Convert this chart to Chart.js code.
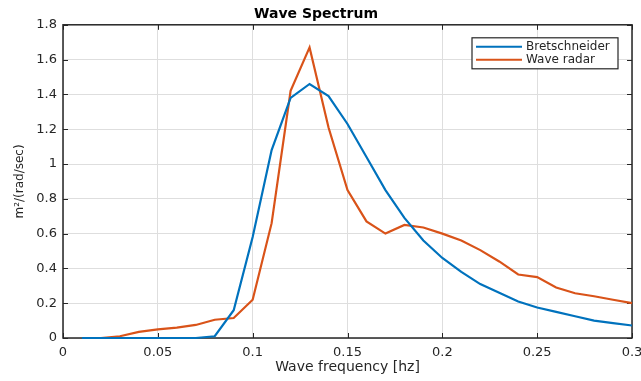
<!DOCTYPE html>
<html>
<head>
<meta charset="utf-8">
<script src="https://cdn.jsdelivr.net/npm/chart.js@4"></script>
<style>
  body { margin: 0; background: #fff; }
</style>
</head>
<body>
<canvas id="spectrum" width="641" height="381"></canvas>
<script>
const freq = [0.01, 0.02, 0.03, 0.04, 0.05, 0.06, 0.07, 0.08, 0.09, 0.10,
  0.11, 0.12, 0.13, 0.14, 0.15, 0.16, 0.17, 0.18, 0.19, 0.20,
  0.21, 0.22, 0.23, 0.24, 0.25, 0.26, 0.27, 0.28, 0.29, 0.30];
const bretschneider = [0, 0, 0, 0, 0, 0, 0, 0.01, 0.16, 0.58,
  1.08, 1.38, 1.46, 1.39, 1.23, 1.04, 0.85, 0.69, 0.56, 0.46,
  0.38, 0.31, 0.26, 0.21, 0.175, 0.15, 0.125, 0.10, 0.086, 0.072];
const waveRadar = [0, 0, 0.01, 0.035, 0.05, 0.06, 0.075, 0.105, 0.115, 0.22,
  0.66, 1.42, 1.67, 1.21, 0.85, 0.67, 0.60, 0.65, 0.635, 0.60,
  0.56, 0.505, 0.44, 0.365, 0.35, 0.29, 0.257, 0.24, 0.22, 0.20];
const seriesNames = ['Bretschneider', 'Wave radar'];
const seriesColors = ['#0072BD', '#D95319'];

const FONT = 'DejaVu Sans';
const INK = '#262626';

const toPoints = (vals) => freq.map((f, i) => ({x: f, y: vals[i]}));
const fmt = (v) => String(+(+v).toFixed(2));

// MATLAB style box with inward ticks (under the lines), legend on top
const boxPlugin = {
  id: 'box',
  beforeDatasetsDraw(chart) {
    const {ctx, chartArea: a, scales} = chart;
    ctx.save();
    ctx.strokeStyle = INK;
    ctx.lineWidth = 1;
    ctx.beginPath();
    scales.x.ticks.forEach(t => {
      const px = Math.round(scales.x.getPixelForValue(t.value)) + 0.5;
      ctx.moveTo(px, a.bottom); ctx.lineTo(px, a.bottom - 5);
      ctx.moveTo(px, a.top); ctx.lineTo(px, a.top + 5);
    });
    scales.y.ticks.forEach(t => {
      const py = Math.round(scales.y.getPixelForValue(t.value)) + 0.5;
      ctx.moveTo(a.left, py); ctx.lineTo(a.left + 5, py);
      ctx.moveTo(a.right, py); ctx.lineTo(a.right - 5, py);
    });
    ctx.stroke();
    ctx.lineWidth = 1.5;
    ctx.strokeRect(a.left, a.top, a.right - a.left, a.bottom - a.top);
    ctx.restore();
  },
  afterDraw(chart) {
    const {ctx, chartArea: a} = chart;
    const w = 146, h = 31;
    const lx = a.right - 14 - w, ly = a.top + 13;
    ctx.save();
    ctx.fillStyle = '#fff';
    ctx.fillRect(lx, ly, w, h);
    ctx.strokeStyle = INK;
    ctx.lineWidth = 1.2;
    ctx.strokeRect(lx, ly, w, h);
    ctx.font = '12px "' + FONT + '"';
    ctx.textBaseline = 'middle';
    chart.data.datasets.forEach((ds, i) => {
      const y = ly + 9 + i * 13;
      ctx.strokeStyle = ds.borderColor;
      ctx.lineWidth = 2;
      ctx.beginPath();
      ctx.moveTo(lx + 4, y); ctx.lineTo(lx + 50, y);
      ctx.stroke();
      ctx.fillStyle = INK;
      ctx.fillText(ds.label, lx + 54, y);
    });
    ctx.restore();
  }
};

new Chart(document.getElementById('spectrum'), {
  type: 'line',
  data: {
    datasets: [
      {label: seriesNames[0], data: toPoints(bretschneider), borderColor: seriesColors[0],
        backgroundColor: seriesColors[0], borderWidth: 2.2, pointRadius: 0, tension: 0, clip: 3},
      {label: seriesNames[1], data: toPoints(waveRadar), borderColor: seriesColors[1],
        backgroundColor: seriesColors[1], borderWidth: 2.2, pointRadius: 0, tension: 0, clip: 3}
    ]
  },
  options: {
    responsive: false,
    animation: false,
    layout: {padding: {left: 0, right: 9, top: 0, bottom: 0}},
    plugins: {
      legend: {display: false},
      tooltip: {enabled: false},
      title: {
        display: true,
        text: 'Wave Spectrum',
        color: '#000',
        font: {family: FONT, size: 14, weight: 'bold'},
        padding: {top: 6, bottom: 2}
      }
    },
    scales: {
      x: {
        type: 'linear',
        min: 0, max: 0.3,
        afterFit: (s) => { s.height = 43; s.paddingRight = 0; s.paddingLeft = 0; },
        grid: {color: '#dedede', drawTicks: false},
        border: {display: false},
        ticks: {stepSize: 0.05, padding: 7, color: INK, maxRotation: 0,
          font: {family: FONT, size: 13}, callback: fmt},
        title: {display: true, text: 'Wave frequency [hz]', color: INK,
          font: {family: FONT, size: 14}, padding: {top: 0, bottom: 5}}
      },
      y: {
        min: 0, max: 1.8,
        afterFit: (s) => { s.width = 63; },
        grid: {color: '#dedede', drawTicks: false},
        border: {display: false},
        ticks: {stepSize: 0.2, padding: 6, color: INK,
          font: {family: FONT, size: 13}, callback: fmt},
        title: {display: true, text: 'm²/(rad/sec)', color: INK,
          font: {family: FONT, size: 12}, padding: {top: 13, bottom: 0}}
      }
    }
  },
  plugins: [boxPlugin]
});
</script>
</body>
</html>
